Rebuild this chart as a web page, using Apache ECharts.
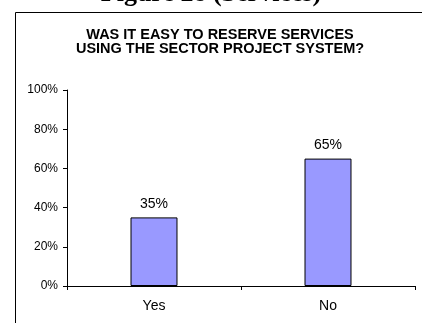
<!DOCTYPE html>
<html>
<head>
<meta charset="utf-8">
<script src="https://cdn.jsdelivr.net/npm/echarts@6/dist/echarts.min.js"></script>
<style>
  html, body { margin: 0; padding: 0; background: #fff; }
  #chart { width: 422px; height: 323px; }
</style>
</head>
<body>
<div id="chart"></div>
<script>
// Survey answers and the share of respondents (percent)
const categories = ['Yes', 'No'];
const shares = [35, 65];
const yTicks = [0, 20, 40, 60, 80, 100];

const sans = '"Liberation Sans", Arial, sans-serif';
const chart = echarts.init(document.getElementById('chart'), null, { renderer: 'canvas' });

chart.setOption({
  animation: false,
  backgroundColor: '#ffffff',
  graphic: [
    {
      type: 'text',
      left: 'center',
      top: -19,
      style: {
        text: 'Figure 28 (Services)',
        font: 'bold 26px "Liberation Serif", "Times New Roman", serif',
        fill: '#000'
      }
    },
    {
      type: 'rect',
      shape: { x: 15.5, y: 12.5, width: 420, height: 330 },
      style: { fill: 'none', stroke: '#000', lineWidth: 1 }
    }
  ],
  title: {
    text: 'WAS IT EASY TO RESERVE SERVICES\nUSING THE SECTOR PROJECT SYSTEM?',
    left: 215,
    textAlign: 'center',
    top: 23,
    textStyle: {
      fontFamily: sans,
      fontWeight: 'bold',
      fontSize: 14.5,
      lineHeight: 14,
      color: '#000'
    }
  },
  grid: { left: 67, right: 7, top: 90, bottom: 37, containLabel: false },
  xAxis: {
    type: 'category',
    data: categories,
    axisLine: { lineStyle: { color: '#000', width: 1 } },
    axisTick: { show: true, length: 4, lineStyle: { color: '#000' } },
    axisLabel: { color: '#000', fontFamily: sans, fontSize: 14, margin: 13 }
  },
  yAxis: {
    type: 'value',
    min: yTicks[0],
    max: yTicks[yTicks.length - 1],
    interval: yTicks[1] - yTicks[0],
    splitLine: { show: false },
    axisLine: { show: true, lineStyle: { color: '#000', width: 1 } },
    axisTick: { show: true, length: 4, lineStyle: { color: '#000' } },
    axisLabel: {
      color: '#000',
      fontFamily: sans,
      fontSize: 12,
      margin: 9,
      formatter: '{value}%'
    }
  },
  series: [{
    type: 'bar',
    data: shares,
    barWidth: '27%',
    itemStyle: { color: '#9999ff', borderColor: '#000', borderWidth: 1 },
    label: {
      show: true,
      position: 'top',
      distance: 6,
      formatter: '{c}%',
      color: '#000',
      fontFamily: sans,
      fontSize: 14
    }
  }]
});
</script>
</body>
</html>
